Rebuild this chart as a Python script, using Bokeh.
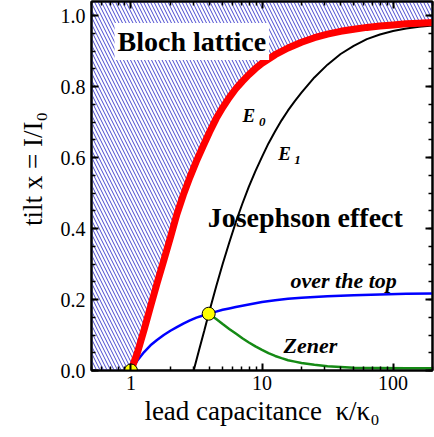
from bokeh.plotting import figure
from bokeh.models import (Label, LogAxis, LinearAxis, FixedTicker, SingleIntervalTicker,
                          PrintfTickFormatter, CustomJSTickFormatter)
from bokeh.embed import file_html
from bokeh.resources import INLINE

# ---- data ----
XMIN, XMAX = 0.5, 200.0
YMIN, YMAX = 0.0, 1.04

e0_x = [1.0, 1.12, 1.26, 1.41, 1.58, 1.78, 2.0, 2.24, 2.51, 2.82, 3.16, 3.55, 3.98, 4.47, 5.01,
        5.62, 6.31, 7.08, 7.94, 8.91, 10.0, 12.6, 15.8, 20.0, 25.1, 31.6, 39.8, 50.1, 63.1,
        79.4, 100.0, 126.0, 158.0, 200.0]
e0_y = [0.0, 0.05, 0.115, 0.18, 0.245, 0.31, 0.375, 0.44, 0.495, 0.545, 0.59, 0.632, 0.672, 0.71, 0.741,
        0.769, 0.794, 0.815, 0.834, 0.851, 0.866, 0.89, 0.909, 0.925, 0.938, 0.948, 0.956, 0.962, 0.967,
        0.971, 0.974, 0.977, 0.979, 0.981]

e1_x = [3.01, 3.31, 3.63, 3.92, 4.47, 5.01, 5.62, 6.31, 7.08, 7.94, 8.91, 10.0, 11.2, 12.6, 14.1,
        15.8, 17.8, 20.0, 25.1, 31.6, 39.8, 50.1, 63.1, 79.4, 100.0, 126.0, 158.0, 200.0]
e1_y = [0.0, 0.058, 0.113, 0.16, 0.237, 0.3, 0.36, 0.418, 0.47, 0.518, 0.562, 0.602, 0.64, 0.674, 0.705,
        0.733, 0.759, 0.783, 0.826, 0.862, 0.892, 0.915, 0.934, 0.947, 0.957, 0.964, 0.969, 0.972]

top_x = [1.0, 1.12, 1.26, 1.41, 1.58, 1.78, 2.0, 2.24, 2.51, 2.82, 3.16, 3.55, 3.92, 4.47, 5.01,
         5.62, 6.31, 7.94, 10.0, 12.6, 15.8, 20.0, 31.6, 50.1, 79.4, 126.0, 200.0]
top_y = [0.0, 0.028, 0.052, 0.071, 0.086, 0.1, 0.112, 0.122, 0.132, 0.141, 0.149, 0.155, 0.16, 0.166, 0.171,
         0.175, 0.179, 0.186, 0.193, 0.198, 0.202, 0.205, 0.209, 0.212, 0.214, 0.216, 0.217]

zen_x = [3.92, 4.47, 5.01, 5.62, 6.31, 7.08, 7.94, 8.91, 10.0, 11.2, 12.6, 14.1, 15.8, 17.8, 20.0,
         25.1, 31.6, 39.8, 50.1, 79.4, 126.0, 200.0]
zen_y = [0.16, 0.145, 0.131, 0.117, 0.104, 0.091, 0.079, 0.068, 0.058, 0.049, 0.041, 0.035, 0.029, 0.025, 0.021,
         0.016, 0.012, 0.01, 0.008, 0.007, 0.006, 0.006]

pt_x = [1.0, 3.92]
pt_y = [0.0, 0.16]

x_major = [1, 10, 100]
x_minor = [0.5, 0.6, 0.7, 0.8, 0.9, 2, 3, 4, 5, 6, 7, 8, 9, 20, 30, 40, 50, 60, 70, 80, 90, 200]

SERIF = "Liberation Serif"

p = figure(width=434, height=437, x_axis_type="log",
           x_range=(XMIN, XMAX), y_range=(YMIN, YMAX),
           output_backend="svg", toolbar_location=None,
           min_border_left=91, min_border_right=2, min_border_top=1, min_border_bottom=67)
p.grid.visible = False
p.outline_line_color = "black"
p.outline_line_width = 2
p.background_fill_color = "white"

# hatched Bloch-lattice region (left of / above E0)
hx = [XMIN] + e0_x + [XMAX, XMIN]
hy = [YMIN] + e0_y + [YMAX, YMAX]
p.patch(hx, hy, fill_alpha=0, line_alpha=0,
        hatch_pattern="left_diagonal_line", hatch_color="#4848d0",
        hatch_scale=7, hatch_weight=1)

p.line(e1_x, e1_y, line_color="black", line_width=2)
p.line(zen_x, zen_y, line_color="#158a15", line_width=2.5)
p.line(top_x, top_y, line_color="#0000ff", line_width=2.5)
p.line(e0_x, e0_y, line_color="#ff0000", line_width=7)
p.scatter(pt_x, pt_y, size=13, fill_color="#ffff00", line_color="black", line_width=1)

# axes
def style(ax, labels=True):
    ax.axis_line_width = 2
    ax.major_tick_in = 7
    ax.major_tick_out = 0
    ax.minor_tick_in = 4
    ax.minor_tick_out = 0
    ax.major_tick_line_width = 2
    ax.minor_tick_line_width = 1.5
    if labels:
        ax.major_label_text_font = SERIF
        ax.major_label_text_font_size = "20px"
        ax.major_label_text_color = "black"
        ax.axis_label_text_font = SERIF
        ax.axis_label_text_font_size = "27px"
        ax.axis_label_text_font_style = "normal"
        ax.axis_label_text_color = "black"
    else:
        ax.major_label_text_font_size = "0px"
        ax.major_label_standoff = 0
        ax.formatter = CustomJSTickFormatter(code="return ''")

p.xaxis.ticker = FixedTicker(ticks=x_major, minor_ticks=x_minor)
p.xaxis.formatter = PrintfTickFormatter(format="%d")
p.xaxis.major_label_standoff = 5
p.xaxis.axis_label = "lead capacitance \u00a0\u03ba/\u03ba\u2080"
p.xaxis.axis_label_standoff = 3
p.yaxis.ticker = SingleIntervalTicker(interval=0.2, num_minor_ticks=4)
p.yaxis.formatter = PrintfTickFormatter(format="%.1f")
p.yaxis.major_label_standoff = 6
p.yaxis.axis_label = "\u00a0\u00a0\u00a0\u00a0\u00a0tilt x = I/I\u2080"
p.yaxis.axis_label_standoff = 10
style(p.xaxis[0])
style(p.yaxis[0])

top = LogAxis(ticker=FixedTicker(ticks=x_major, minor_ticks=x_minor))
style(top, labels=False)
p.add_layout(top, "above")
right = LinearAxis(ticker=SingleIntervalTicker(interval=0.2, num_minor_ticks=4))
style(right, labels=False)
p.add_layout(right, "right")

# in-plot texts
def lab(x, y, text, size, style_="normal", **kw):
    l = Label(x=x, y=y, text=text, text_font=SERIF, text_font_size=size,
              text_font_style=style_, text_color="black", text_baseline="alphabetic", **kw)
    p.add_layout(l)
    return l

lab(0.75, 0.927, "Bloch lattice", "28px", "bold",
    background_fill_color="white", padding=3)
lab(3.85, 0.431, "Josephson effect", "28px", "bold")
lab(7.11, 0.718, "E", "19px", "bold italic")
lab(9.5, 0.699, "0", "13px", "bold italic")
lab(13.3, 0.611, "E", "19px", "bold italic")
lab(17.6, 0.592, "1", "13px", "bold italic")
lab(16.5, 0.2535, "over the top", "22px", "bold italic")
lab(14.6, 0.0704, "Zener", "22px", "bold italic")

open("out.html", "w").write(file_html(p, INLINE))
